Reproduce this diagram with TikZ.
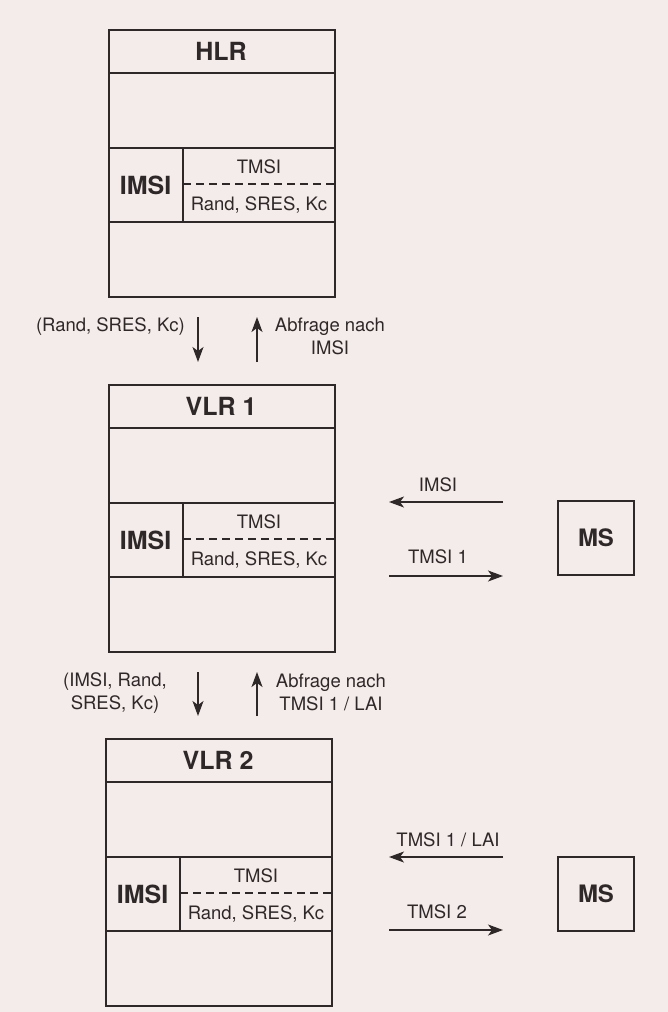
\documentclass[tikz,border=0pt]{standalone}
\usepackage{fontspec}
\setmainfont{TeX Gyre Heros}
\usetikzlibrary{arrows.meta}
\definecolor{bg}{HTML}{F4ECEB}
\definecolor{ink}{HTML}{2F2828}
\tikzset{
  every node/.style={text=ink, inner sep=0pt},
  frame/.style={draw=ink, line width=1.6pt, minimum width=226pt, minimum height=267pt, anchor=north west},
  msbox/.style={draw=ink, line width=1.5pt, minimum width=76pt, minimum height=74pt, font=\fontsize{24}{28}\selectfont\bfseries},
  titletxt/.style={font=\fontsize{25}{29}\selectfont\bfseries},
  keytxt/.style={font=\fontsize{25}{29}\selectfont\bfseries},
  celltxt/.style={font=\fontsize{18.5}{22}\selectfont},
  lbl/.style={font=\fontsize{18.5}{23}\selectfont, align=center},
  thin/.style={draw=ink, line width=1.3pt},
  titleline/.style={draw=ink, line width=2.2pt},
  dashline/.style={draw=ink, line width=1.2pt, dash pattern=on 8pt off 5pt},
  arr/.style={draw=ink, line width=1.3pt, -{Stealth[length=15pt,width=11pt,inset=4pt]}}
}
\begin{document}
\begin{tikzpicture}[x=1pt,y=-1pt]
\fill[bg] (0,0) rectangle (668,1012);
\useasboundingbox (0,0) rectangle (668,1012);

\foreach \n/\l/\t/\lab in {hlr/108/29/HLR, vlrA/108/384/VLR 1, vlrB/105/738/VLR 2}{
  \node[frame] (\n) at (\l,\t) {};
  \node[titletxt] (\n-title) at (\l+113,\t+22) {\lab};
  \draw[titleline] (\l,\t+44) -- (\l+226,\t+44);
  \draw[thin] (\l,\t+119) -- (\l+226,\t+119);
  \draw[thin] (\l,\t+193) -- (\l+226,\t+193);
  \draw[thin] (\l+75,\t+119) -- (\l+75,\t+193);
  \draw[dashline] (\l+75,\t+155) -- (\l+226,\t+155);
  \node[keytxt] (\n-imsi) at (\l+37.5,\t+156) {IMSI};
  \node[celltxt] (\n-tmsi) at (\l+151,\t+138) {TMSI};
  \node[celltxt] (\n-rand) at (\l+151,\t+176) {Rand, SRES, Kc};
}

% HLR <-> VLR 1
\coordinate (d1a) at (198,317); \coordinate (d1b) at (198,362);
\coordinate (u1a) at (257,362); \coordinate (u1b) at (257,317);
\draw[arr] (d1a) -- (d1b);
\draw[arr] (u1a) -- (u1b);
\node[lbl, anchor=east] (l1) at (185,327) {(Rand, SRES, Kc)};
\node[lbl] (r1) at (330,336) {Abfrage nach\\IMSI};

% VLR 1 <-> VLR 2
\coordinate (d2a) at (198,672); \coordinate (d2b) at (198,716);
\coordinate (u2a) at (257,716); \coordinate (u2b) at (257,672);
\draw[arr] (d2a) -- (d2b);
\draw[arr] (u2a) -- (u2b);
\node[lbl] (l2) at (115,693) {(IMSI, Rand,\\SRES, Kc)};
\node[lbl] (r2) at (331,692) {Abfrage nach\\TMSI 1 / LAI};

% MS 1
\node[msbox] (ms1) at (596,538) {MS};
\coordinate (m1a) at (503,502); \coordinate (m1b) at (389,502);
\coordinate (m1c) at (389,576); \coordinate (m1d) at (503,576);
\draw[arr] (m1a) -- (m1b);
\draw[arr] (m1c) -- (m1d);
\node[lbl] (t1a) at (438,485) {IMSI};
\node[lbl] (t1b) at (438,557) {TMSI 1};

% MS 2
\node[msbox] (ms2) at (596,894) {MS};
\coordinate (m2a) at (503,857); \coordinate (m2b) at (389,857);
\coordinate (m2c) at (389,930); \coordinate (m2d) at (503,930);
\draw[arr] (m2a) -- (m2b);
\draw[arr] (m2c) -- (m2d);
\node[lbl] (t2a) at (448,840) {TMSI 1 / LAI};
\node[lbl] (t2b) at (437,912) {TMSI 2};
\end{tikzpicture}
\end{document}
